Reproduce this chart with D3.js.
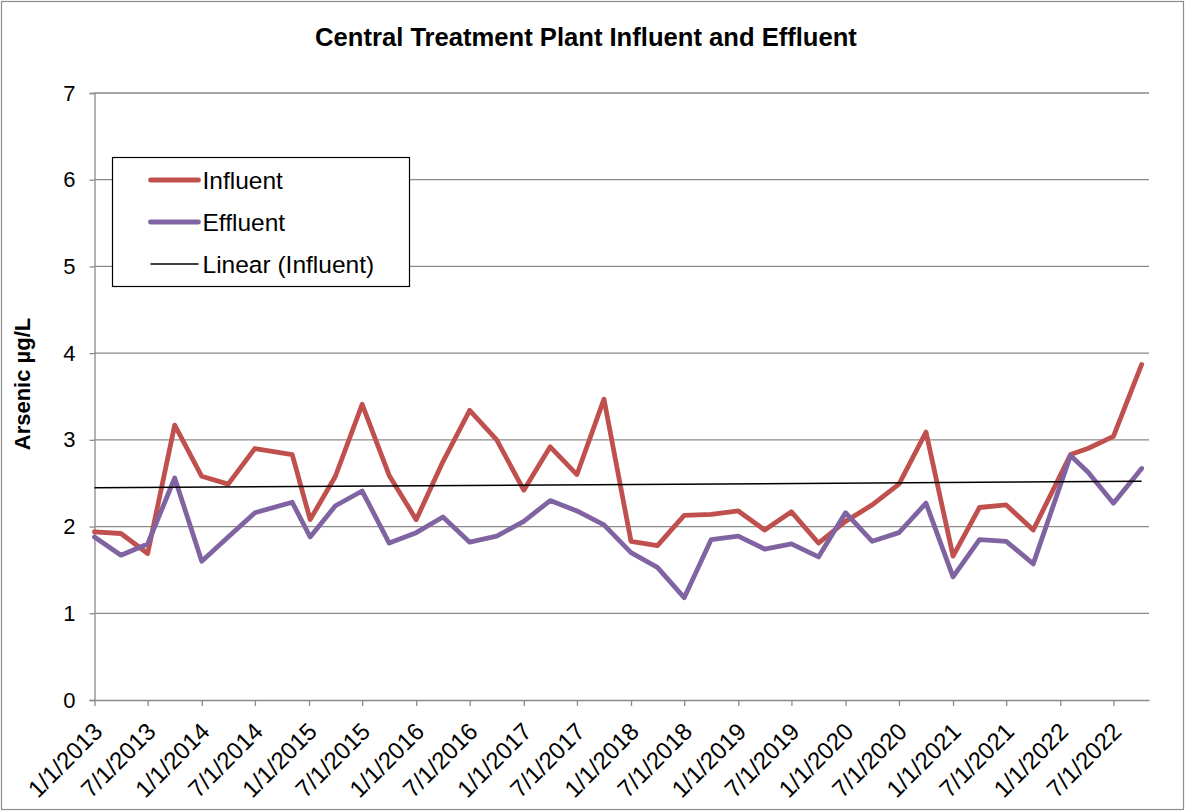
<!DOCTYPE html>
<html>
<head>
<meta charset="utf-8">
<script src="https://cdn.jsdelivr.net/npm/d3@7"></script>
<style>
  body { margin: 0; background: #fff; }
  text { font-family: "Liberation Sans", Arial, sans-serif; fill: #000; }
</style>
</head>
<body>
<div class="graph"></div>
<script>
// sample dates and arsenic values, ug/L
var sampleDates = ["2013-01-01","2013-04-01","2013-07-01","2013-10-01","2014-01-01","2014-04-01","2014-07-01","2014-11-05",
  "2015-01-05","2015-04-01","2015-07-01","2015-10-01","2016-01-01","2016-04-01","2016-07-01","2016-10-01",
  "2017-01-01","2017-04-01","2017-07-01","2017-10-01","2018-01-01","2018-04-01","2018-07-01","2018-10-01",
  "2019-01-01","2019-04-01","2019-07-01","2019-10-01","2020-01-01","2020-04-01","2020-07-01","2020-10-01",
  "2021-01-01","2021-04-01","2021-07-01","2021-10-01","2022-02-05","2022-04-05","2022-07-01","2022-10-05"];
var influent = [1.94,1.92,1.69,3.17,2.58,2.49,2.90,2.83,
  2.08,2.58,3.41,2.59,2.08,2.75,3.34,3.00,
  2.42,2.92,2.60,3.47,1.83,1.78,2.13,2.14,
  2.18,1.96,2.17,1.81,2.06,2.25,2.49,3.09,
  1.66,2.22,2.25,1.96,2.83,2.90,3.04,3.87];
var effluent = [1.88,1.67,1.80,2.56,1.60,1.88,2.16,2.28,
  1.88,2.24,2.41,1.81,1.93,2.11,1.82,1.89,
  2.06,2.30,2.18,2.02,1.70,1.53,1.18,1.85,
  1.89,1.74,1.80,1.65,2.16,1.83,1.93,2.27,
  1.42,1.85,1.83,1.57,2.82,2.63,2.27,2.67];
var axisStart = "2013-01-01", axisEnd = "2022-10-30";
var tickDates = ["2013-01-01","2013-07-01","2014-01-01","2014-07-01","2015-01-01","2015-07-01","2016-01-01","2016-07-01",
  "2017-01-01","2017-07-01","2018-01-01","2018-07-01","2019-01-01","2019-07-01","2020-01-01","2020-07-01",
  "2021-01-01","2021-07-01","2022-01-01","2022-07-01"];
var yTicks = [0,1,2,3,4,5,6,7];
var legendNames = ["Influent", "Effluent", "Linear (Influent)"];

var W = 1185, H = 811;
var margin = {top: 93, right: 36, bottom: 111, left: 94.5},
    width = W - margin.left - margin.right,
    height = H - margin.top - margin.bottom;

var parseDate = d3.timeParse("%Y-%m-%d");
var fmt = d3.timeFormat("%-m/%-d/%Y");

var x = d3.scaleTime().domain([parseDate(axisStart), parseDate(axisEnd)]).range([0, width]);
var y = d3.scaleLinear().domain([0, 7]).range([height, 0]);

var svgRoot = d3.select(".graph").append("svg")
    .attr("width", W).attr("height", H);

// outer chart border
svgRoot.append("rect")
    .attr("x", 1.5).attr("y", 1.5).attr("width", W - 3).attr("height", H - 3)
    .attr("fill", "#fff").attr("stroke", "#8c8c8c").attr("stroke-width", 1.2);

var svg = svgRoot.append("g")
    .attr("transform", "translate(" + margin.left + "," + margin.top + ")");

var rows = sampleDates.map(function(d, i) {
  return {date: parseDate(d), inf: influent[i], eff: effluent[i]};
});

// gridlines
svg.append("g")
    .selectAll("line").data(yTicks.slice(1)).enter().append("line")
    .attr("x1", 0).attr("x2", width)
    .attr("y1", function(d) { return y(d); }).attr("y2", function(d) { return y(d); })
    .attr("stroke", "#8a8a8a").attr("stroke-width", 1.3);

// y axis
var yAxis = svg.append("g")
    .call(d3.axisLeft(y).tickValues(yTicks).tickSize(5).tickPadding(14).tickFormat(d3.format("d")));
yAxis.select(".domain").attr("stroke", "#8a8a8a").attr("stroke-width", 1.3);
yAxis.selectAll(".tick line").attr("stroke", "#8a8a8a").attr("stroke-width", 1.3);
yAxis.selectAll("text").style("font-size", "22px").attr("fill", "#000");

// x axis
var xAxis = svg.append("g")
    .attr("transform", "translate(0," + height + ")")
    .call(d3.axisBottom(x).tickValues(tickDates.map(parseDate)).tickSize(6).tickSizeOuter(0).tickFormat(fmt));
xAxis.select(".domain").attr("stroke", "#8a8a8a").attr("stroke-width", 1.3);
xAxis.selectAll(".tick line").attr("stroke", "#8a8a8a").attr("stroke-width", 1.3);
xAxis.selectAll("text")
    .style("font-size", "24px").attr("fill", "#000")
    .attr("text-anchor", "end")
    .attr("dy", "0.35em")
    .attr("transform", "translate(3,27) rotate(-45)")
    .attr("y", 0).attr("x", 0);

// lines
var lineInf = d3.line().x(function(d) { return x(d.date); }).y(function(d) { return y(d.inf); });
var lineEff = d3.line().x(function(d) { return x(d.date); }).y(function(d) { return y(d.eff); });

svg.append("path").datum(rows)
    .attr("fill", "none").attr("stroke", "#c0504d").attr("stroke-width", 4.8)
    .attr("stroke-linejoin", "round").attr("stroke-linecap", "round")
    .attr("d", lineInf);

svg.append("path").datum(rows)
    .attr("fill", "none").attr("stroke", "#8064a2").attr("stroke-width", 4.8)
    .attr("stroke-linejoin", "round").attr("stroke-linecap", "round")
    .attr("d", lineEff);

// linear trend of influent (least squares on date)
var xs = rows.map(function(d) { return +d.date; });
var mx = d3.mean(xs), my = d3.mean(influent);
var sxy = d3.sum(rows, function(d) { return (+d.date - mx) * (d.inf - my); });
var sxx = d3.sum(xs, function(v) { return (v - mx) * (v - mx); });
var slope = sxy / sxx, icpt = my - slope * mx;
var first = rows[0].date, last = rows[rows.length - 1].date;
svg.append("line")
    .attr("x1", x(first)).attr("x2", x(last))
    .attr("y1", y(icpt + slope * first)).attr("y2", y(icpt + slope * last))
    .attr("stroke", "#000").attr("stroke-width", 1.5);

// title
svgRoot.append("text")
    .attr("x", 586).attr("y", 46)
    .attr("text-anchor", "middle")
    .style("font-size", "25.6px").style("font-weight", "bold")
    .text("Central Treatment Plant Influent and Effluent");

// y axis title
svgRoot.append("text")
    .attr("transform", "translate(30,384) rotate(-90)")
    .attr("text-anchor", "middle")
    .style("font-size", "22px").style("font-weight", "bold")
    .text("Arsenic µg/L");

// legend
var legend = svgRoot.append("g").attr("transform", "translate(112.5,157.5)");
legend.append("rect")
    .attr("width", 297).attr("height", 129)
    .attr("fill", "#fff").attr("stroke", "#000").attr("stroke-width", 1.2);
var legColors = ["#c0504d", "#8064a2", "#000"];
var legWidths = [4.8, 4.8, 1.5];
legendNames.forEach(function(name, i) {
  var yy = 22.5 + i * 42;
  legend.append("line")
      .attr("x1", 38).attr("x2", 86).attr("y1", yy).attr("y2", yy)
      .attr("stroke", legColors[i]).attr("stroke-width", legWidths[i])
      .attr("stroke-linecap", i < 2 ? "round" : "butt");
  legend.append("text")
      .attr("x", 90).attr("y", yy + 8.5)
      .style("font-size", "24.5px")
      .text(name);
});
</script>
</body>
</html>
